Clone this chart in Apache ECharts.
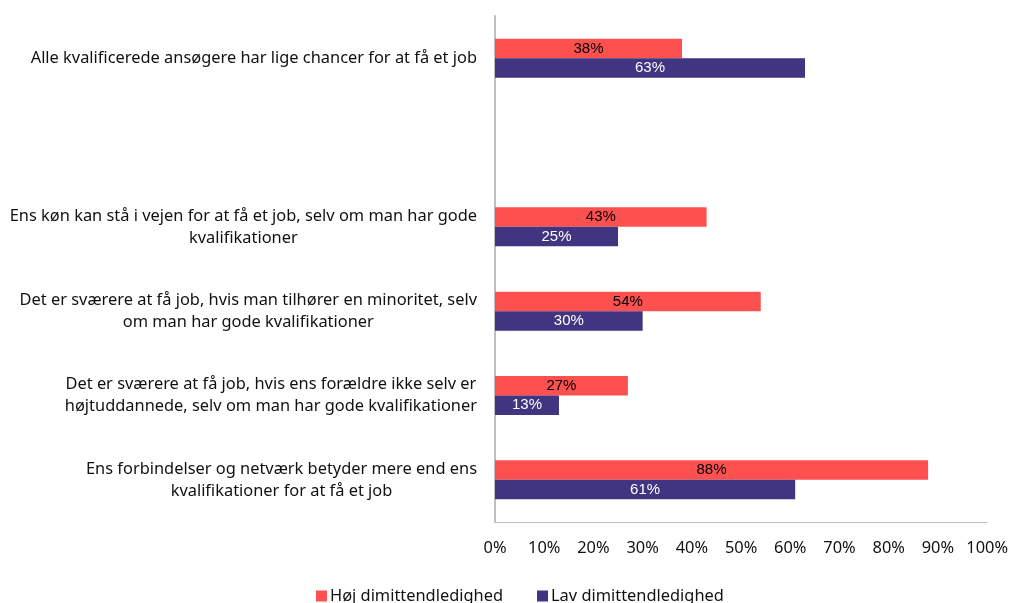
<!DOCTYPE html>
<html>
<head>
<meta charset="utf-8">
<script src="https://cdn.jsdelivr.net/npm/echarts@6/dist/echarts.min.js"></script>
<style>
  html, body { margin: 0; padding: 0; background: #fff; }
  #main { width: 1011px; height: 603px; }
</style>
</head>
<body>
<div id="main"></div>
<script>
var categories = [
  "Alle kvalificerede ansøgere har lige chancer for at få et job",
  "",
  "Ens køn kan stå i vejen for at få et job, selv om man har gode\nkvalifikationer",
  "Det er sværere at få job, hvis man tilhører en minoritet, selv\nom man har gode kvalifikationer",
  "Det er sværere at få job, hvis ens forældre ikke selv er\nhøjtuddannede, selv om man har gode kvalifikationer",
  "Ens forbindelser og netværk betyder mere end ens\nkvalifikationer for at få et job"
];
var seriesNames = ["Høj dimittendledighed", "Lav dimittendledighed"];
var hojValues = [38, null, 43, 54, 27, 88];
var lavValues = [63, null, 25, 30, 13, 61];

var labelFont = "'Noto Sans', 'Open Sans', sans-serif";

var myChart = echarts.init(document.getElementById("main"));
var option = {
  animation: false,
  grid: {
    left: 495,
    right: 23,
    top: 16,
    bottom: 81
  },
  legend: {
    data: seriesNames,
    top: 583,
    left: 311,
    itemWidth: 11,
    itemHeight: 11,
    itemGap: 34,
    icon: "rect",
    textStyle: {
      fontFamily: labelFont,
      fontSize: 16.4,
      color: "#111",
      padding: [0, 0, 0, -2]
    }
  },
  xAxis: {
    type: "value",
    min: 0,
    max: 100,
    interval: 10,
    axisLine: { show: true, lineStyle: { color: "#bfbfbf", width: 1 } },
    axisTick: { show: false },
    splitLine: { show: false },
    axisLabel: {
      formatter: "{value}%",
      margin: 18,
      fontFamily: labelFont,
      fontSize: 16.4,
      color: "#111"
    }
  },
  yAxis: {
    type: "category",
    inverse: true,
    data: categories,
    axisLine: { show: true, lineStyle: { color: "#bfbfbf", width: 2 } },
    axisTick: { show: false },
    axisLabel: {
      margin: 18,
      align: "right",
      formatter: function (val) {
        if (!val) return "";
        return val.split("\n").map(function (l) { return "{c|" + l + "}"; }).join("\n");
      },
      rich: {
        c: {
          align: "center",
          fontFamily: labelFont,
          fontSize: 16.4,
          lineHeight: 22,
          color: "#111"
        }
      }
    }
  },
  series: [
    {
      name: seriesNames[0],
      type: "bar",
      data: hojValues,
      barWidth: 19.5,
      barGap: "0%",
      itemStyle: { color: "#ff5050" },
      label: {
        show: true,
        position: "inside",
        formatter: "{c}%",
        fontFamily: "'Liberation Sans', Arial, sans-serif",
        fontSize: 15,
        color: "#000"
      }
    },
    {
      name: seriesNames[1],
      type: "bar",
      data: lavValues,
      barWidth: 19.5,
      barGap: "0%",
      itemStyle: { color: "#413581" },
      label: {
        show: true,
        position: "inside",
        formatter: "{c}%",
        fontFamily: "'Liberation Sans', Arial, sans-serif",
        fontSize: 15,
        color: "#fff"
      }
    }
  ]
};
myChart.setOption(option);
</script>
</body>
</html>
